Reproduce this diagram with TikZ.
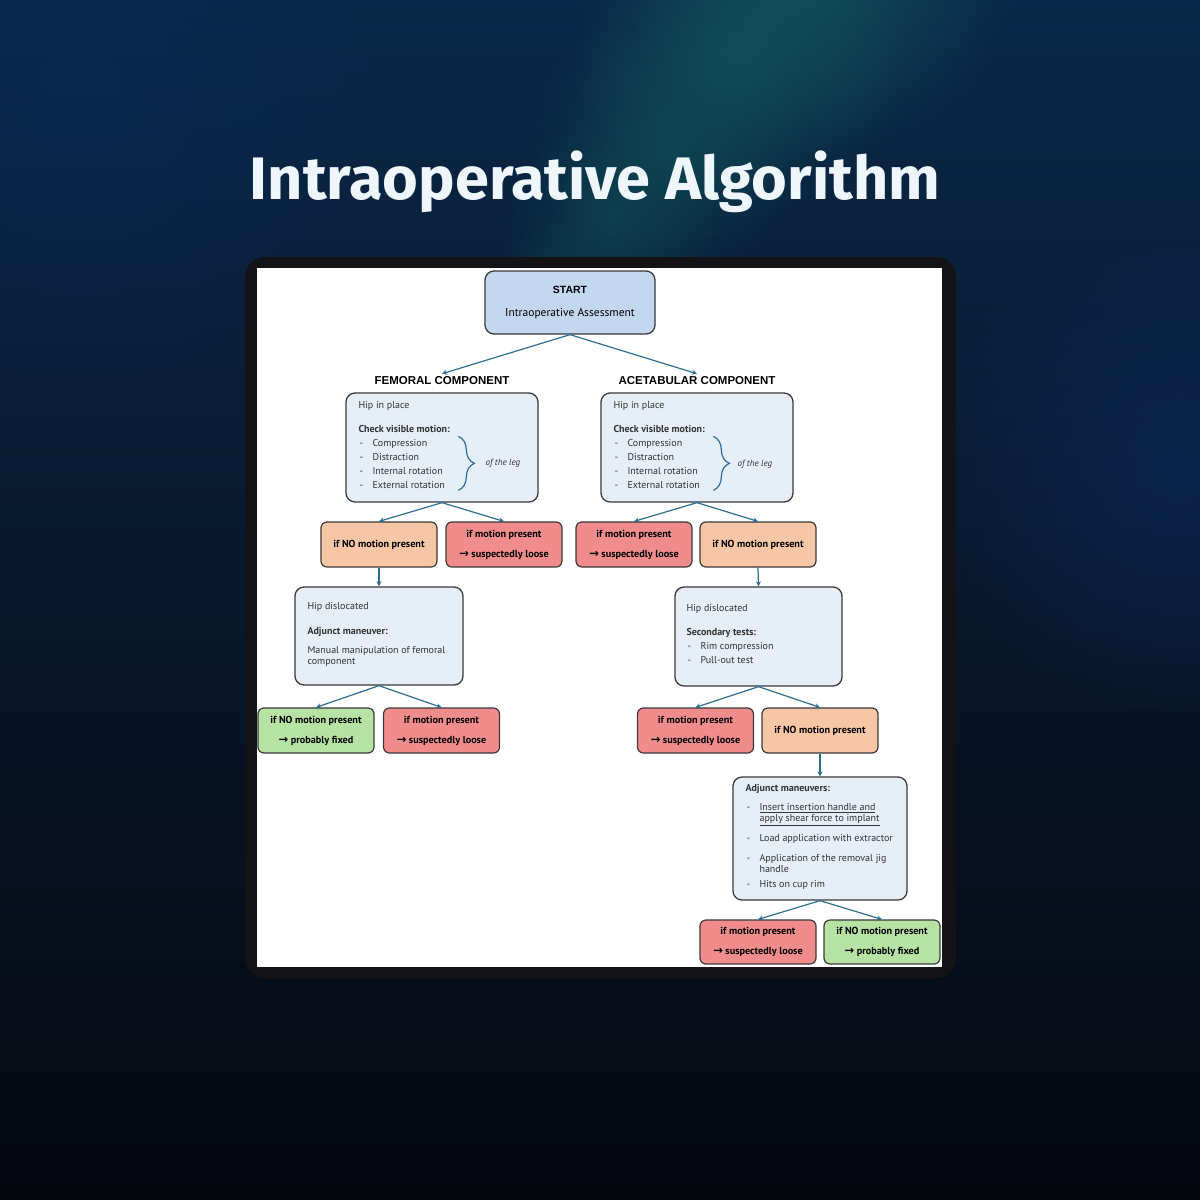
\documentclass[tikz,border=0pt]{standalone}
\usepackage{fontspec}
\setmainfont{PT Sans}
\newfontfamily\headfont{Liberation Sans}
\newfontfamily\titlefont{Fira Sans}
\newfontfamily\arrowfont{DejaVu Sans}
\usetikzlibrary{arrows.meta,positioning,fadings,decorations.pathreplacing}

\definecolor{bgtop}{HTML}{0B2848}
\definecolor{bgmid}{HTML}{0A1A3A}
\definecolor{bgbot}{HTML}{05070F}
\definecolor{glowteal}{HTML}{12585C}
\definecolor{glowblue}{HTML}{0E2B5C}
\definecolor{framedark}{HTML}{131316}
\definecolor{titlewhite}{HTML}{EEF5FB}
\definecolor{startblue}{HTML}{C3D7EE}
\definecolor{paleblue}{HTML}{E6EEF8}
\definecolor{peach}{HTML}{F7C6A6}
\definecolor{rose}{HTML}{F08C8B}
\definecolor{mint}{HTML}{B6E3A3}
\definecolor{edge}{HTML}{3A3A3A}
\definecolor{flow}{HTML}{2D6E8E}
\definecolor{bracecol}{HTML}{2F6C9A}
\definecolor{bodytext}{HTML}{333333}

\tikzfading[name=softglow, inner color=transparent!0, outer color=transparent!100]

\newcommand\dashitem[1]{\makebox[14pt][l]{\hspace{1pt}-}#1}
\newcommand\nextline[1]{\makebox[14pt][l]{}#1}
\newcommand\thenarrow{{\arrowfont\fontsize{11.5}{10}\selectfont →}}

\tikzset{
  box/.style={draw=edge, line width=1.3pt, rounded corners=9pt, fill=paleblue},
  startbox/.style={box, fill=startblue, minimum width=170pt, minimum height=63pt},
  smallbox/.style={draw=edge, line width=1.2pt, rounded corners=6pt,
    minimum width=116pt, minimum height=45pt, align=center, text=black,
    font=\fontsize{10.2}{20}\selectfont\bfseries},
  nobox/.style={smallbox, fill=peach},
  loosebox/.style={smallbox, fill=rose},
  fixedbox/.style={smallbox, fill=mint},
  heading/.style={inner xsep=0pt, inner ysep=3pt, font=\headfont\bfseries\fontsize{11.5}{13}\selectfont},
  body/.style={inner sep=0pt, align=left, text=bodytext, font=\fontsize{10}{14}\selectfont},
  legnote/.style={inner sep=0pt, text=bodytext, font=\itshape\fontsize{9}{10}\selectfont},
  legbrace/.style={draw=bracecol, line width=1.2pt, decorate, decoration={brace, amplitude=16pt}},
  flowarrow/.style={draw=flow, line width=1.2pt, -{Stealth[length=5pt,width=5pt]}},
}

\begin{document}
\begin{tikzpicture}[x=1pt, y=-1pt]
\useasboundingbox (0,0) rectangle (1200,1200);

% background
\shade[top color=bgtop, middle color=bgmid, bottom color=bgbot] (0,0) rectangle (1200,1200);
\foreach \cx/\cy/\r/\o in {820/-40/200/0.75, 740/50/170/0.65, 670/140/140/0.55, 610/220/110/0.45, 570/290/80/0.3}
  \fill[glowteal, opacity=\o, path fading=softglow] (\cx,\cy) circle (\r);
\fill[glowblue, opacity=0.6, path fading=softglow] (1180,470) circle (260);
\fill[glowblue, opacity=0.45, path fading=softglow] (80,80) circle (320);

% title
\node[text=titlewhite, inner sep=0pt] (title) at (595,182)
  {\resizebox{690pt}{\height}{\titlefont\bfseries\fontsize{60}{60}\selectfont Intraoperative Algorithm}};

% panel
\fill[framedark, rounded corners=20pt] (245,257) rectangle (956,978);
\fill[white] (257,268) rectangle (942,967);

% start
\node[startbox, align=center, font=\fontsize{11.5}{23}\selectfont] (start) at (570,302.5)
  {{\headfont\bfseries\fontsize{10.5}{12}\selectfont START}\\Intraoperative Assessment};
\node[heading] (femhead) at (442,381) {FEMORAL COMPONENT};
\node[heading] (acethead) at (697,381) {ACETABULAR COMPONENT};

% hip in place
\node[box, minimum width=192pt, minimum height=109pt] (fem1) at (442,447.5) {};
\node[box, minimum width=192pt, minimum height=109pt] (acet1) at (697,447.5) {};
\node[body, anchor=north west] (fem1txt) at ([shift={(13,9)}]fem1.north west)
  {Hip in place\\[10pt]
   \textbf{Check visible motion:}\\
   \dashitem{Compression}\\
   \dashitem{Distraction}\\
   \dashitem{Internal rotation}\\
   \dashitem{External rotation}};
\node[body, anchor=north west] (acet1txt) at ([shift={(13,9)}]acet1.north west)
  {Hip in place\\[10pt]
   \textbf{Check visible motion:}\\
   \dashitem{Compression}\\
   \dashitem{Distraction}\\
   \dashitem{Internal rotation}\\
   \dashitem{External rotation}};
\draw[legbrace] ([shift={(113,44)}]fem1.north west) -- ([shift={(113,98)}]fem1.north west);
\draw[legbrace] ([shift={(113,44)}]acet1.north west) -- ([shift={(113,98)}]acet1.north west);
\node[legnote, anchor=west] (femleg) at ([shift={(140,71)}]fem1.north west) {of the leg};
\node[legnote, anchor=west] (acetleg) at ([shift={(137,72)}]acet1.north west) {of the leg};

% first results
\node[nobox] (femno1) at (379,544.5) {if NO motion present};
\node[loosebox] (femloose1) at (504,544.5) {if motion present\\\thenarrow\ suspectedly loose};
\node[loosebox] (acetloose1) at (634,544.5) {if motion present\\\thenarrow\ suspectedly loose};
\node[nobox] (acetno1) at (758,544.5) {if NO motion present};

% hip dislocated
\node[box, minimum width=168pt, minimum height=98pt] (fem2) at (379,636) {};
\node[body, anchor=north west, font=\fontsize{10}{11}\selectfont] (fem2txt) at ([shift={(13,16)}]fem2.north west)
  {Hip dislocated\\[14pt]
   \textbf{Adjunct maneuver:}\\[8pt]
   Manual manipulation of femoral\\
   component};
\node[box, minimum width=167pt, minimum height=99pt] (acet2) at (758.5,636.5) {};
\node[body, anchor=north west] (acet2txt) at ([shift={(12,18)}]acet2.north west)
  {Hip dislocated\\[10pt]
   \textbf{Secondary tests:}\\
   \dashitem{Rim compression}\\
   \dashitem{Pull-out test}};

% second results
\node[fixedbox] (femfixed) at (316,730.5) {if NO motion present\\\thenarrow\ probably fixed};
\node[loosebox] (femloose2) at (441.5,730.5) {if motion present\\\thenarrow\ suspectedly loose};
\node[loosebox] (acetloose2) at (695.5,730.5) {if motion present\\\thenarrow\ suspectedly loose};
\node[nobox] (acetno2) at (820,730.5) {if NO motion present};

% adjunct maneuvers
\node[box, minimum width=174pt, minimum height=123pt] (adj) at (820,838.5) {};
\node[body, anchor=north west, font=\fontsize{10}{11}\selectfont] (adjtxt) at ([shift={(13,8)}]adj.north west)
  {\textbf{Adjunct maneuvers:}\\[8pt]
   \dashitem{\underline{Insert insertion handle and}}\\
   \nextline{\underline{apply shear force to implant}}\\[8pt]
   \dashitem{Load application with extractor}\\[9pt]
   \dashitem{Application of the removal jig}\\
   \nextline{handle}\\[4pt]
   \dashitem{Hits on cup rim}};

% final results
\node[loosebox, minimum height=44pt] (acetloose3) at (758,942) {if motion present\\\thenarrow\ suspectedly loose};
\node[fixedbox, minimum height=44pt] (acetfixed) at (882,942) {if NO motion present\\\thenarrow\ probably fixed};

% arrows
\draw[flowarrow] (start.south) -- (femhead.north);
\draw[flowarrow] (start.south) -- (acethead.north);
\draw[flowarrow] (fem1.south) -- (femno1.north);
\draw[flowarrow] (fem1.south) -- (femloose1.north);
\draw[flowarrow] (acet1.south) -- (acetloose1.north);
\draw[flowarrow] (acet1.south) -- (acetno1.north);
\draw[flowarrow] (femno1.south) -- (fem2.north);
\draw[flowarrow] (acetno1.south) -- (acet2.north);
\draw[flowarrow] (fem2.south) -- (femfixed.north);
\draw[flowarrow] (fem2.south) -- (femloose2.north);
\draw[flowarrow] (acet2.south) -- (acetloose2.north);
\draw[flowarrow] (acet2.south) -- (acetno2.north);
\draw[flowarrow] (acetno2.south) -- (adj.north);
\draw[flowarrow] (adj.south) -- (acetloose3.north);
\draw[flowarrow] (adj.south) -- (acetfixed.north);
\end{tikzpicture}
\end{document}
